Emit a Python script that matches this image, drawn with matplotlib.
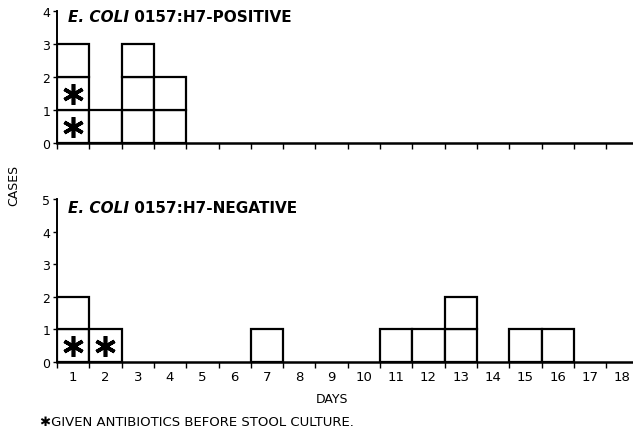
import matplotlib
matplotlib.use("Agg")
import matplotlib.pyplot as plt
from matplotlib.patches import Rectangle

days = list(range(1, 19))
pos_cases = [3, 1, 3, 2, 0, 0, 0, 0, 0, 0, 0, 0, 0, 0, 0, 0, 0, 0]
pos_antibiotic = [2, 0, 0, 0, 0, 0, 0, 0, 0, 0, 0, 0, 0, 0, 0, 0, 0, 0]
neg_cases = [2, 1, 0, 0, 0, 0, 1, 0, 0, 0, 1, 1, 2, 0, 1, 1, 0, 0]
neg_antibiotic = [1, 1, 0, 0, 0, 0, 0, 0, 0, 0, 0, 0, 0, 0, 0, 0, 0, 0]
pos_yticks = [0, 1, 2, 3, 4]
neg_yticks = [0, 1, 2, 3, 4, 5]
pos_title = ("E. COLI", " 0157:H7-POSITIVE")
neg_title = ("E. COLI", " 0157:H7-NEGATIVE")

W, H = 633, 435
fig = plt.figure(figsize=(W / 100, H / 100), dpi=100)
plt.rcParams['font.family'] = ['DejaVu Sans']

def px_axes(x0, x1, ytop, ybot):
    return fig.add_axes([x0 / W, 1 - ybot / H, (x1 - x0) / W, (ybot - ytop) / H])

ax1 = px_axes(57, 632, 12, 144)
ax2 = px_axes(57, 632, 200, 363)

def draw_panel(ax, cases, anti, yticks, title, title_y, show_labels):
    ax.set_xlim(0.5, 18.3)
    ax.set_ylim(0, yticks[-1])
    for d, c, a in zip(days, cases, anti):
        for k in range(c):
            ax.add_patch(Rectangle((d - 0.5, k), 1, 1, facecolor="white",
                                   edgecolor="black", linewidth=1.6, zorder=3))
            if k < a:
                ax.plot(d, k + 0.5, marker=(6, 2, 0), markersize=15,
                        markeredgewidth=2.6, color="black", zorder=4)
    for s in ("top", "right"):
        ax.spines[s].set_visible(False)
    ax.spines["left"].set_linewidth(1.4)
    ax.spines["bottom"].set_linewidth(1.8)
    ax.set_yticks(yticks)
    ax.tick_params(axis="y", length=3, width=1, labelsize=9, pad=2)
    ax.set_xticks([d + 0.5 for d in days[:-1]] + [0.5], minor=False)
    ax.set_xticklabels([])
    ax.tick_params(axis="x", length=4, width=1, direction="out")
    if show_labels:
        ax.set_xticks(days, minor=True)
        ax.set_xticklabels([str(d) for d in days], minor=True)
        ax.tick_params(axis="x", which="minor", length=0, labelsize=9.5, pad=6)
    t1 = ax.text(0.019, title_y, title[0], transform=ax.transAxes,
                 fontsize=11, fontweight="bold", fontstyle="italic",
                 va="center", ha="left")
    ax.annotate(title[1], xy=(1, 0), xycoords=t1, va="bottom", ha="left",
                fontsize=11, fontweight="bold")

draw_panel(ax1, pos_cases, pos_antibiotic, pos_yticks, pos_title, 0.96, False)
draw_panel(ax2, neg_cases, neg_antibiotic, neg_yticks, neg_title, 0.95, True)

fig.text(332 / W, 1 - 400 / H, "DAYS", ha="center", va="center", fontsize=9)
fig.text(14 / W, 1 - 185 / H, "CASES", ha="center", va="center", fontsize=9,
         rotation=90)
fig.text(40 / W, 1 - 423 / H, "✱GIVEN ANTIBIOTICS BEFORE STOOL CULTURE.",
         ha="left", va="center", fontsize=9.5)

fig.savefig("out.png", dpi=100)
